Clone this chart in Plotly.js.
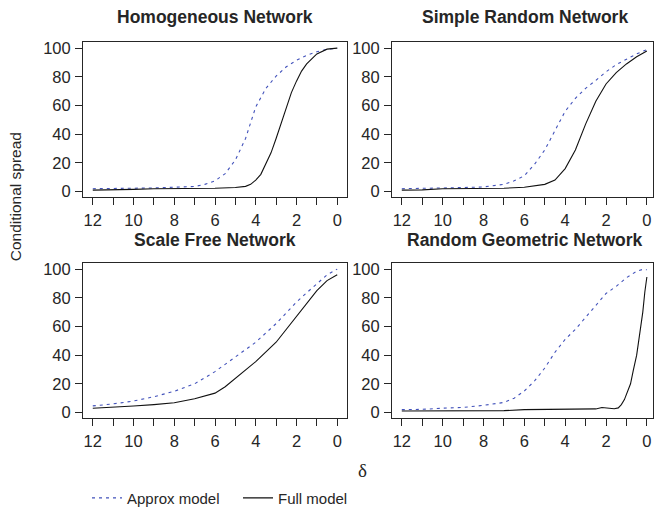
<!DOCTYPE html>
<html>
<head>
<meta charset="utf-8">
<script src="https://cdn.plot.ly/plotly-3.0.1.min.js"></script>
<style>html,body{margin:0;padding:0;background:#fff;}#chart{width:654px;height:515px;}</style>
</head>
<body>
<div id="chart"></div>
<script>
// ---- Data ----
const panelTitles = ["Homogeneous Network", "Simple Random Network", "Scale Free Network", "Random Geometric Network"];
const seriesNames = ["Approx model", "Full model"];
const xTickVals = [12, 11, 10, 9, 8, 7, 6, 5, 4, 3, 2, 1, 0];
const xTickText = ["12", "", "10", "", "8", "", "6", "", "4", "", "2", "", "0"];
const yTickVals = [0, 20, 40, 60, 80, 100];

// Homogeneous Network
const homoApproxX = [12, 11, 10, 9, 8, 7, 6.5, 6, 5.5, 5, 4.5, 4, 3.5, 3, 2.5, 2, 1.5, 1, 0.5, 0];
const homoApproxY = [2, 2, 2.2, 2.5, 3, 3.5, 5, 7.5, 12.5, 22, 37, 59, 72, 80.5, 87, 91.5, 95, 97.5, 99.2, 100];
const homoFullX = [12, 11, 10, 9, 8, 7, 6, 5, 4.5, 4.25, 4, 3.75, 3.5, 3.25, 3, 2.75, 2.5, 2.25, 2, 1.75, 1.5, 1, 0.5, 0];
const homoFullY = [1, 1, 1.5, 2, 2, 2, 2.3, 2.8, 3.6, 5, 8, 12, 19, 27, 37, 48, 58, 69, 77, 84, 89, 96, 99.3, 100];

// Simple Random Network
const srnApproxX = [12, 11, 10, 9, 8, 7, 6.5, 6, 5.5, 5, 4.5, 4, 3.5, 3, 2.5, 2, 1.5, 1, 0.5, 0];
const srnApproxY = [2, 2, 2.5, 2.8, 3.2, 5, 7.5, 11, 19, 29, 43, 56, 65, 72, 77.5, 83.5, 88.5, 92.5, 96, 99];
const srnFullX = [12, 11, 10, 9, 8, 7, 6, 5, 4.5, 4, 3.5, 3, 2.5, 2, 1.5, 1, 0.5, 0];
const srnFullY = [1, 1.2, 2, 2, 2, 2.3, 3, 5, 8, 16, 29, 47, 63, 75, 83, 89, 94, 98];

// Scale Free Network
const sfnApproxX = [12, 11, 10, 9, 8, 7, 6, 5, 4, 3, 2, 1.5, 1, 0.5, 0];
const sfnApproxY = [4.6, 6, 8, 11, 14.8, 20, 28.5, 38.5, 49, 62, 77, 83.5, 90, 96, 100];
const sfnFullX = [12, 11, 10, 9, 8, 7, 6, 5.5, 5, 4, 3, 2, 1, 0.5, 0];
const sfnFullY = [3, 3.5, 4.5, 5.5, 6.8, 9.6, 13.5, 18, 24, 35.5, 49, 67, 85, 92, 96];

// Random Geometric Network
const rgnApproxX = [12, 11, 10, 9, 8, 7, 6.5, 6, 5.5, 5, 4.5, 4, 3.5, 3, 2.5, 2, 1.5, 1, 0.5, 0.2, 0];
const rgnApproxY = [2, 2.2, 3, 3.5, 5, 7, 10, 15, 22, 31, 42, 51, 58, 66.5, 75, 83, 88, 94, 98.5, 99.8, 99.5];
const rgnFullX = [12, 10, 8, 7, 6, 5, 4, 3, 2.5, 2.2, 2, 1.6, 1.4, 1.25, 1.1, 1, 0.8, 0.67, 0.5, 0.43, 0.3, 0.2, 0.1, 0];
const rgnFullY = [1, 1, 1.2, 1.3, 2, 2, 2, 2, 2.5, 3.5, 3.3, 2.6, 3.2, 5.5, 9, 13, 20, 29, 40, 47, 60, 70, 84, 94.5];

const approxX = [homoApproxX, srnApproxX, sfnApproxX, rgnApproxX];
const approxY = [homoApproxY, srnApproxY, sfnApproxY, rgnApproxY];
const fullX = [homoFullX, srnFullX, sfnFullX, rgnFullX];
const fullY = [homoFullY, srnFullY, sfnFullY, rgnFullY];

// ---- Layout helpers (pixel geometry) ----
const W = 654, H = 515;
const px = v => v / W;
const py = v => 1 - v / H;
const boxes = [
  {x0: 83, x1: 347, y0: 43, y1: 200, xr: [12.48, -0.48]},
  {x0: 392, x1: 653, y0: 43, y1: 200, xr: [12.48, -0.3]},
  {x0: 83, x1: 347, y0: 267, y1: 424, xr: [12.48, -0.48]},
  {x0: 392, x1: 653, y0: 267, y1: 424, xr: [12.48, -0.3]}
];
const ink = '#262626';
const blue = '#4252bb';
const tickSize = 16.5;

const traces = [];
const layout = {
  width: W, height: H,
  margin: {l: 0, r: 0, t: 0, b: 0},
  paper_bgcolor: '#fff', plot_bgcolor: '#fff',
  font: {family: 'Liberation Sans, Arial, sans-serif', size: 15, color: ink},
  showlegend: true,
  legend: {orientation: 'h', x: px(87), y: py(505), xanchor: 'left', yanchor: 'middle',
           font: {size: 15, color: ink}, bgcolor: 'rgba(0,0,0,0)'},
  legend2: {orientation: 'h', x: px(238), y: py(505), xanchor: 'left', yanchor: 'middle',
           font: {size: 15, color: ink}, bgcolor: 'rgba(0,0,0,0)'},
  annotations: []
};

for (let i = 0; i < 4; i++) {
  const s = i === 0 ? '' : String(i + 1);
  const b = boxes[i];
  traces.push({
    x: approxX[i], y: approxY[i], type: 'scatter', mode: 'lines',
    name: seriesNames[0], legend: 'legend', showlegend: i === 0,
    line: {color: blue, width: 1.1, dash: '3px,4px'},
    xaxis: 'x' + s, yaxis: 'y' + s, hoverinfo: 'skip'
  });
  traces.push({
    x: fullX[i], y: fullY[i], type: 'scatter', mode: 'lines',
    name: seriesNames[1], legend: 'legend2', showlegend: i === 0,
    line: {color: '#111', width: 1.1},
    xaxis: 'x' + s, yaxis: 'y' + s, hoverinfo: 'skip'
  });
  layout['xaxis' + s] = {
    domain: [px(b.x0), px(b.x1)], anchor: 'y' + s, range: b.xr, autorange: false,
    tickmode: 'array', tickvals: xTickVals, ticktext: xTickText,
    ticks: 'outside', ticklen: 7, tickwidth: 1, tickcolor: ink,
    showline: true, mirror: true, linecolor: ink, linewidth: 1,
    showgrid: false, zeroline: false, ticklabelstandoff: 1,
    tickfont: {size: tickSize, color: ink}
  };
  layout['yaxis' + s] = {
    domain: [py(b.y1), py(b.y0)], anchor: 'x' + s, range: [-4, 104], autorange: false,
    tickmode: 'array', tickvals: yTickVals,
    ticks: 'outside', ticklen: 7, tickwidth: 1, tickcolor: ink,
    showline: true, mirror: true, linecolor: ink, linewidth: 1,
    showgrid: false, zeroline: false, ticklabelstandoff: 1,
    tickfont: {size: tickSize, color: ink}
  };
  layout.annotations.push({
    text: '<b>' + panelTitles[i] + '</b>', xref: 'paper', yref: 'paper',
    x: px((b.x0 + (i % 2 ? 657 : b.x1)) / 2), y: py(b.y0 - (i < 2 ? 26 : 24)), xanchor: 'center', yanchor: 'middle',
    showarrow: false, font: {size: 17.5, color: ink}
  });
}

layout.annotations.push({
  text: 'Conditional spread', xref: 'paper', yref: 'paper',
  x: px(15), y: py(200), xanchor: 'center', yanchor: 'middle', textangle: -90,
  showarrow: false, font: {size: 15.5, color: ink}
});
layout.annotations.push({
  text: 'δ', xref: 'paper', yref: 'paper',
  x: px(362), y: py(477), xanchor: 'center', yanchor: 'middle',
  showarrow: false, font: {family: 'Liberation Serif, serif', size: 19, color: ink}
});

Plotly.newPlot('chart', traces, layout, {staticPlot: true, displayModeBar: false});
</script>
</body>
</html>
